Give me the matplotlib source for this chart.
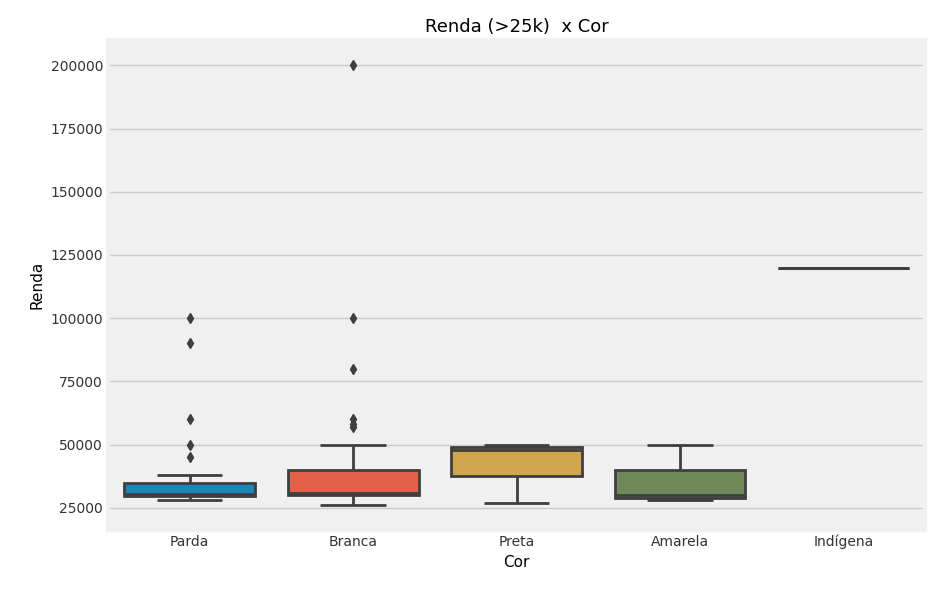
import matplotlib.pyplot as plt
import matplotlib.colors as mcolors
import colorsys

plt.style.use("fivethirtyeight")

cores = ["Parda", "Branca", "Preta", "Amarela", "Indígena"]
q1 = [29500, 30000, 37500, 29000, 120000]
med = [30500, 31000, 48000, 30000, 120000]
q3 = [35000, 40000, 49000, 40000, 120000]
whislo = [28000, 26000, 27000, 28000, 120000]
whishi = [38000, 50000, 50000, 50000, 120000]
outliers = [
    [45000, 50000, 60000, 90000, 100000],
    [57000, 58000, 60000, 80000, 100000, 200000],
    [],
    [],
    [],
]
base_colors = ["#008fd5", "#fc4f30", "#e5ae38", "#6d904f", "#8b8b8b"]


def desat(c, prop=0.75):
    h, l, s = colorsys.rgb_to_hls(*mcolors.to_rgb(c))
    return colorsys.hls_to_rgb(h, l, s * prop)


stats = [
    dict(label=c, q1=a, med=m, q3=b, whislo=lo, whishi=hi, fliers=f)
    for c, a, m, b, lo, hi, f in zip(cores, q1, med, q3, whislo, whishi, outliers)
]

fig, ax = plt.subplots(figsize=(9.47, 5.92), dpi=100)
fig.patch.set_facecolor("white")
gray = "#3f3f3f"
bp = ax.bxp(
    stats, positions=range(len(cores)), widths=0.8, patch_artist=True,
    boxprops=dict(edgecolor=gray, linewidth=2),
    medianprops=dict(color=gray, linewidth=2),
    whiskerprops=dict(color=gray, linewidth=2),
    capprops=dict(color=gray, linewidth=2),
    flierprops=dict(marker="d", markerfacecolor=gray, markeredgecolor=gray, markersize=5),
)
for patch, c in zip(bp["boxes"], base_colors):
    patch.set_facecolor(desat(c))

ax.set_xticks(range(len(cores)))
ax.set_xticklabels(cores)
ax.xaxis.grid(False)
ax.set_xlim(-0.5, 4.5)
ax.set_ylim(16300, 209900)
ax.tick_params(labelsize=10, colors="#333333")
ax.set_title("Renda (>25k)  x Cor", fontsize=13)
ax.set_xlabel("Cor", fontsize=11)
ax.set_ylabel("Renda", fontsize=11)
fig.subplots_adjust(left=0.114, right=0.977, top=0.932, bottom=0.105)
fig.savefig("out.png", dpi=100, facecolor="white")
